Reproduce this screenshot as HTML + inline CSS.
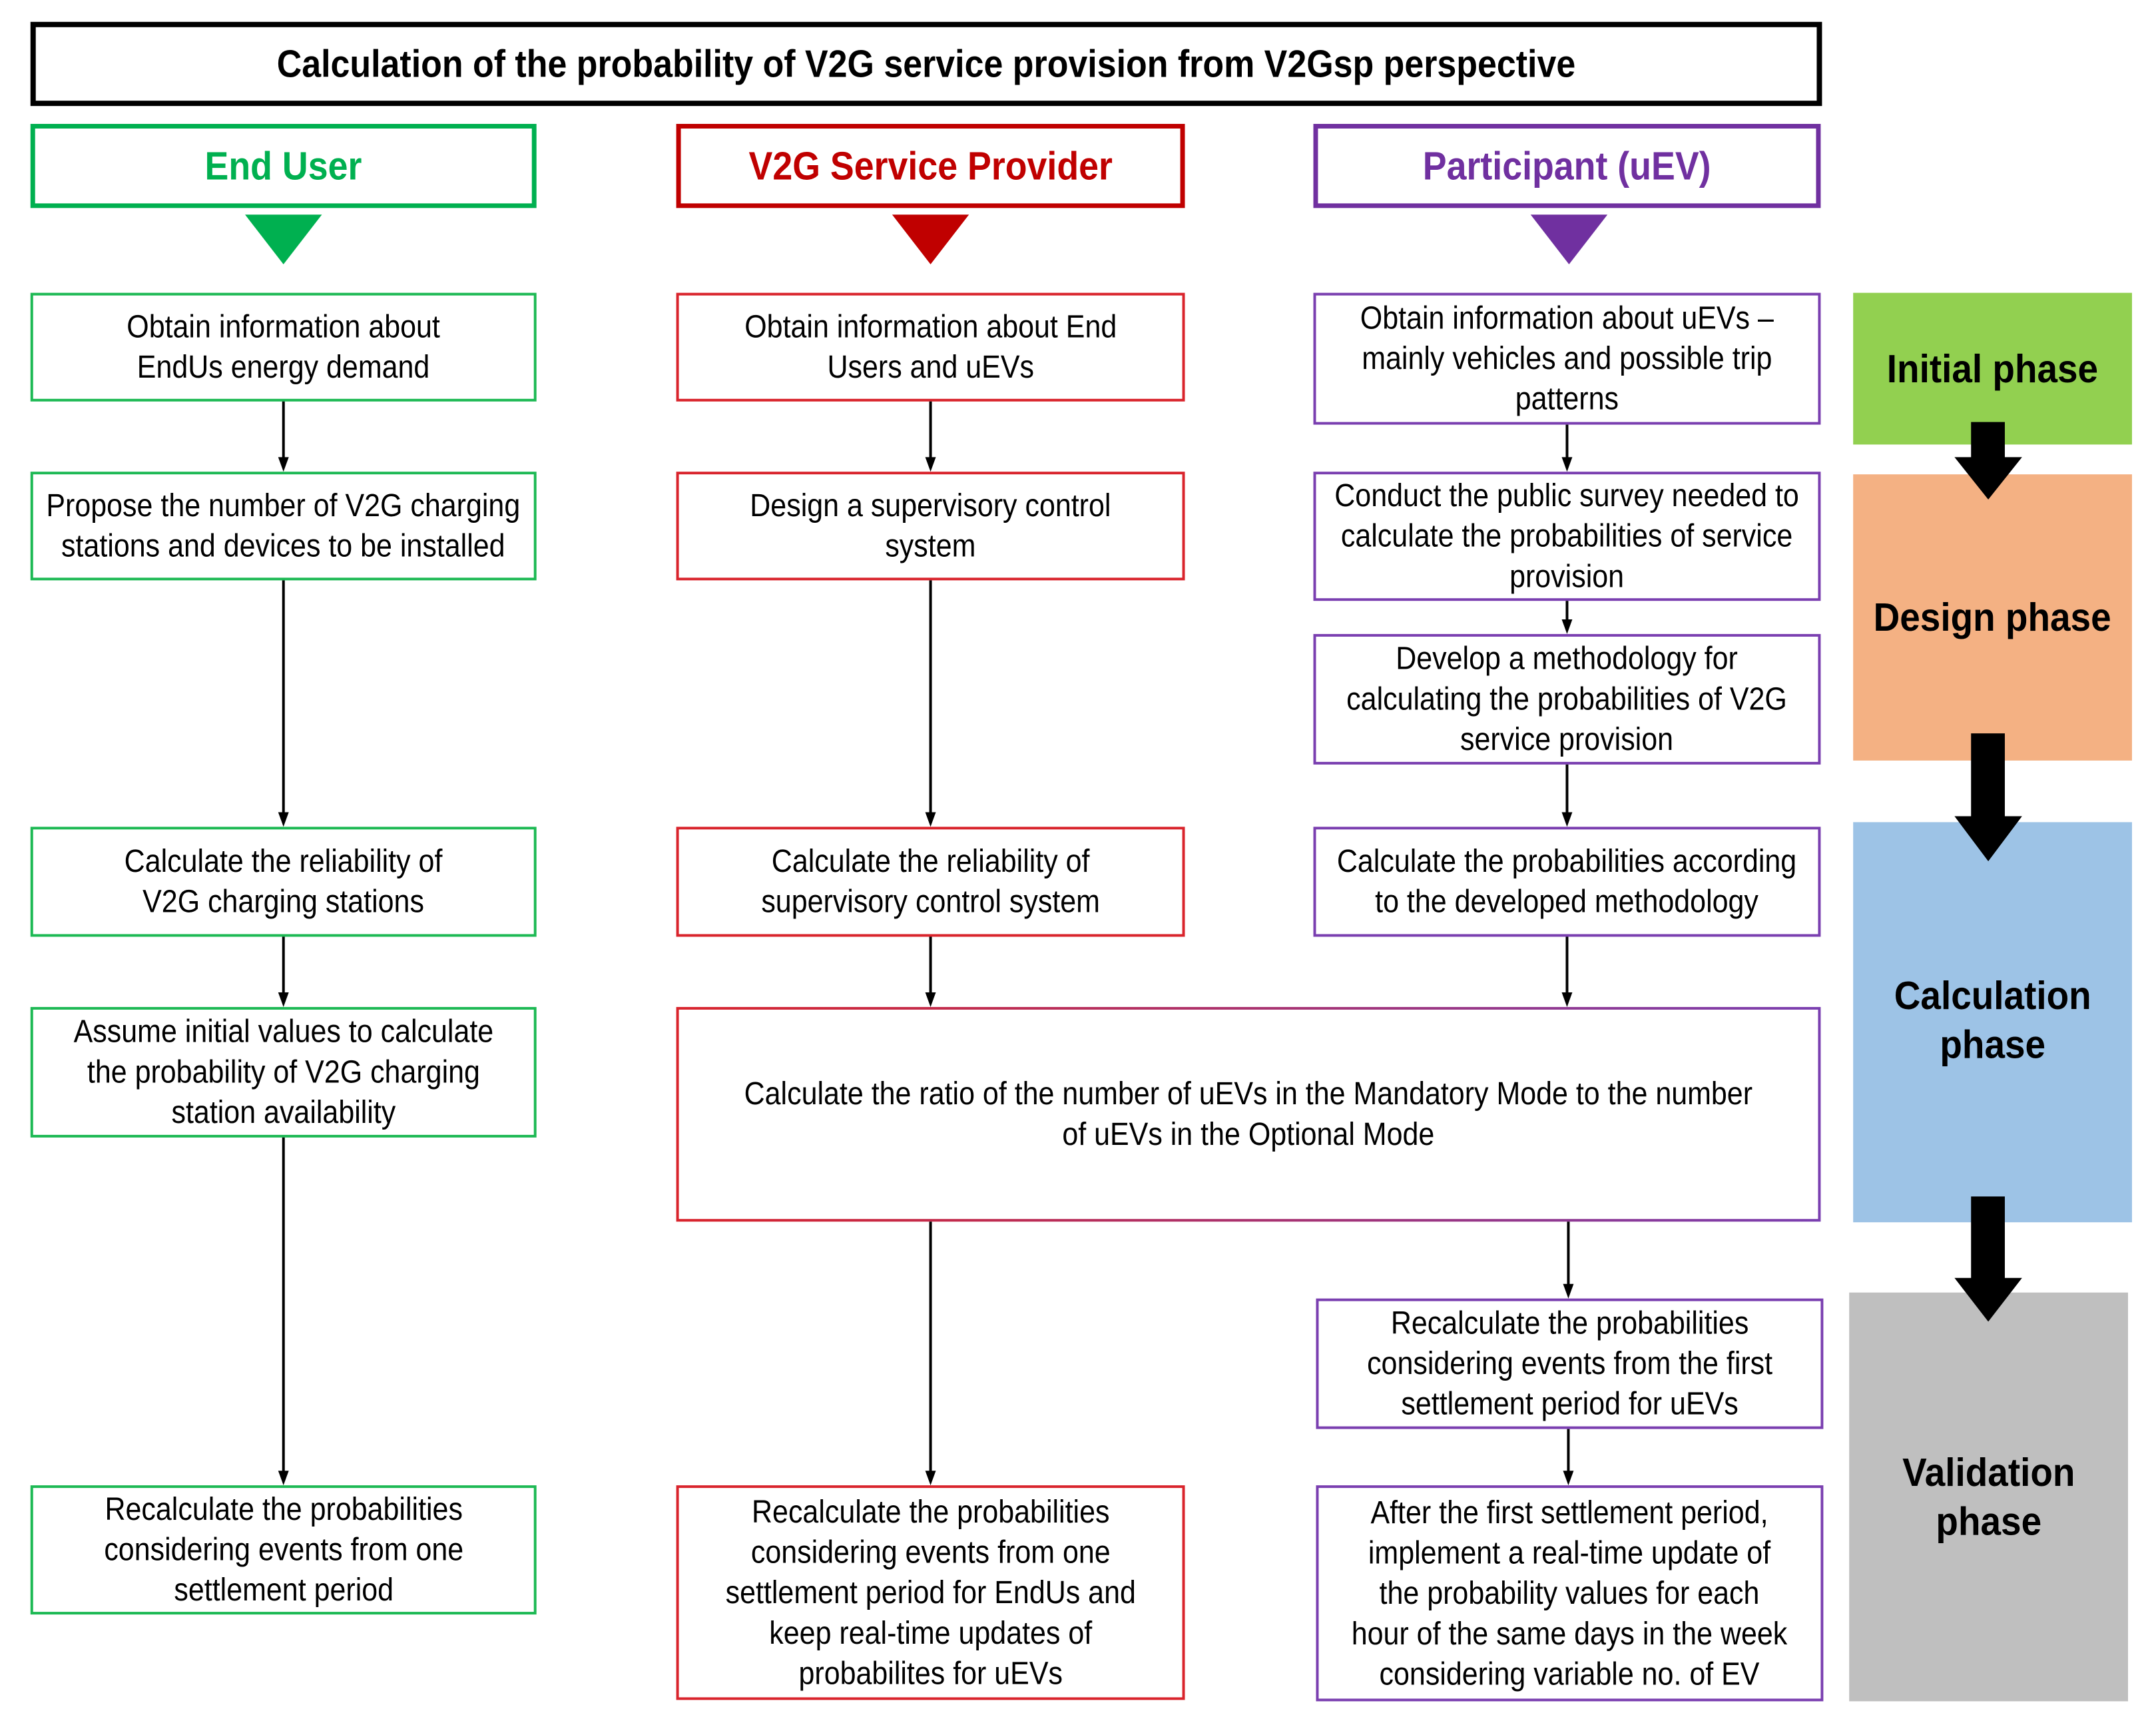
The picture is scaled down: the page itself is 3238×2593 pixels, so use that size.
<!DOCTYPE html>
<html><head><meta charset="utf-8"><style>
body{margin:0;width:3238px;height:2593px;background:#fff;position:relative;overflow:hidden;font-family:"Liberation Sans",sans-serif;}
#w{position:absolute;left:0;top:0;width:3238px;height:2593px;transform:scale(0.9947);transform-origin:0 0;}
.b{position:absolute;box-sizing:border-box;display:flex;align-items:center;justify-content:center;text-align:center;font-size:48px;line-height:61px;color:#000;background:#fff;padding:0 8px;}
.b>span,.h>span,.ph>span{display:block;flex-shrink:0;width:auto;white-space:nowrap;transform:scaleX(0.9);}
.h>span{transform:scaleX(0.9);}
.ph>span{transform:scaleX(0.92);}
.g{border:4px solid #1db954;} .r{border:4px solid #d9242c;} .p{border:4px solid #7a3fb0;}
.h{position:absolute;box-sizing:border-box;display:flex;align-items:center;justify-content:center;font-weight:bold;font-size:60px;border:7px solid;}
.ph{position:absolute;display:flex;align-items:center;justify-content:center;text-align:center;font-weight:bold;font-size:60px;line-height:74px;color:#000;}
svg{position:absolute;left:0;top:0;}
</style></head><body><div id="w">
<div class="h" style="left:46px;top:33px;width:2705px;height:127px;border:8px solid #000;font-size:58px;"><span>Calculation of the probability of V2G service provision from V2Gsp perspective</span></div>
<div class="h" style="left:46px;top:187px;width:764px;height:127px;border-color:#00b050;color:#00b050;"><span>End User</span></div>
<div class="h" style="left:1021px;top:187px;width:768px;height:127px;border-color:#c00000;color:#c00000;"><span>V2G Service Provider</span></div>
<div class="h" style="left:1983px;top:187px;width:766px;height:127px;border-color:#7030a0;color:#7030a0;"><span>Participant (uEV)</span></div>

<div class="ph" style="left:2798px;top:442px;width:421px;height:229px;background:#92d050;align-items:flex-start;"><span style="margin-top:78px">Initial phase</span></div>
<div class="ph" style="left:2798px;top:716px;width:421px;height:432px;background:#f4b183;"><span>Design phase</span></div>
<div class="ph" style="left:2798px;top:1241px;width:421px;height:604px;background:#9dc3e6;align-items:flex-start;"><span style="margin-top:225px">Calculation<br>phase</span></div>
<div class="ph" style="left:2792px;top:1951px;width:421px;height:617px;background:#bfbfbf;"><span>Validation<br>phase</span></div>

<div class="b g" style="left:46px;top:442px;width:764px;height:164px;"><span>Obtain information about<br>EndUs energy demand</span></div>
<div class="b g" style="left:46px;top:712px;width:764px;height:164px;"><span>Propose the number of V2G charging<br>stations and devices to be installed</span></div>
<div class="b g" style="left:46px;top:1248px;width:764px;height:166px;"><span>Calculate the reliability of<br>V2G charging stations</span></div>
<div class="b g" style="left:46px;top:1520px;width:764px;height:197px;"><span>Assume initial values to calculate<br>the probability of V2G charging<br>station availability</span></div>
<div class="b g" style="left:46px;top:2242px;width:764px;height:195px;"><span>Recalculate the probabilities<br>considering events from one<br>settlement period</span></div>

<div class="b r" style="left:1021px;top:442px;width:768px;height:164px;"><span>Obtain information about End<br>Users and uEVs</span></div>
<div class="b r" style="left:1021px;top:712px;width:768px;height:164px;"><span>Design a supervisory control<br>system</span></div>
<div class="b r" style="left:1021px;top:1248px;width:768px;height:166px;"><span>Calculate the reliability of<br>supervisory control system</span></div>
<div class="b r" style="left:1021px;top:2242px;width:768px;height:324px;"><span>Recalculate the probabilities<br>considering events from one<br>settlement period for EndUs and<br>keep real-time updates of<br>probabilites for uEVs</span></div>

<div class="b p" style="left:1983px;top:442px;width:766px;height:199px;"><span>Obtain information about uEVs –<br>mainly vehicles and possible trip<br>patterns</span></div>
<div class="b p" style="left:1983px;top:712px;width:766px;height:195px;"><span>Conduct the public survey needed to<br>calculate the probabilities of service<br>provision</span></div>
<div class="b p" style="left:1983px;top:957px;width:766px;height:197px;"><span>Develop a methodology for<br>calculating the probabilities of V2G<br>service provision</span></div>
<div class="b p" style="left:1983px;top:1248px;width:766px;height:166px;"><span>Calculate the probabilities according<br>to the developed methodology</span></div>
<div class="b p" style="left:1987px;top:1960px;width:766px;height:197px;"><span>Recalculate the probabilities<br>considering events from the first<br>settlement period for uEVs</span></div>
<div class="b p" style="left:1987px;top:2242px;width:766px;height:326px;"><span>After the first settlement period,<br>implement a real-time update of<br>the probability values for each<br>hour of the same days in the week<br>considering variable no. of EV</span></div>

<div class="b" style="left:1021px;top:1520px;width:1728px;height:324px;"><span>Calculate the ratio of the number of uEVs in the Mandatory Mode to the number<br>of uEVs in the Optional Mode</span></div>

<svg width="3238" height="2593" viewBox="0 0 3238 2593">
<defs><linearGradient id="gr" x1="0" x2="1" y1="0" y2="0"><stop offset="0" stop-color="#d9242c"/><stop offset="1" stop-color="#7a3fb0"/></linearGradient></defs>
<rect x="1023" y="1522" width="1724" height="320" fill="none" stroke="url(#gr)" stroke-width="4"/>
<polygon points="370,324 486,324 428,399" fill="#00b050"/>
<polygon points="1347,324 1463,324 1405,399" fill="#c00000"/>
<polygon points="2311,324 2427,324 2369,399" fill="#7030a0"/>
<g stroke="#000" stroke-width="4">
<line x1="428" y1="606" x2="428" y2="692"/><line x1="428" y1="876" x2="428" y2="1228"/><line x1="428" y1="1414" x2="428" y2="1500"/><line x1="428" y1="1717" x2="428" y2="2222"/>
<line x1="1405" y1="606" x2="1405" y2="692"/><line x1="1405" y1="876" x2="1405" y2="1228"/><line x1="1405" y1="1414" x2="1405" y2="1500"/><line x1="1405" y1="1844" x2="1405" y2="2222"/>
<line x1="2366" y1="641" x2="2366" y2="692"/><line x1="2366" y1="907" x2="2366" y2="937"/><line x1="2366" y1="1154" x2="2366" y2="1228"/><line x1="2366" y1="1414" x2="2366" y2="1500"/><line x1="2368" y1="1844" x2="2368" y2="1940"/><line x1="2368" y1="2157" x2="2368" y2="2222"/>
</g>
<g fill="#000">
<polygon points="420,690 436,690 428,712"/><polygon points="420,1226 436,1226 428,1248"/><polygon points="420,1498 436,1498 428,1520"/><polygon points="420,2220 436,2220 428,2242"/>
<polygon points="1397,690 1413,690 1405,712"/><polygon points="1397,1226 1413,1226 1405,1248"/><polygon points="1397,1498 1413,1498 1405,1520"/><polygon points="1397,2220 1413,2220 1405,2242"/>
<polygon points="2358,690 2374,690 2366,712"/><polygon points="2358,935 2374,935 2366,957"/><polygon points="2358,1226 2374,1226 2366,1248"/><polygon points="2358,1498 2374,1498 2366,1520"/><polygon points="2360,1938 2376,1938 2368,1960"/><polygon points="2360,2220 2376,2220 2368,2242"/>
<rect x="2976" y="637" width="51" height="55"/><polygon points="2951,690 3053,690 3002,754"/>
<rect x="2976" y="1107" width="51" height="127"/><polygon points="2951,1232 3053,1232 3002,1300"/>
<rect x="2976" y="1806" width="51" height="125"/><polygon points="2951,1929 3053,1929 3002,1995"/>
</g>
</svg>
</div></body></html>
